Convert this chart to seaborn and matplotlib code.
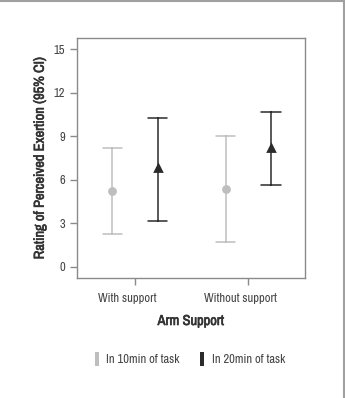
import pandas as pd
import matplotlib.pyplot as plt
import seaborn as sns
import numpy as np
from matplotlib import font_manager
import matplotlib.patheffects as pe
import matplotlib.transforms as mtransforms
from matplotlib.patches import Patch
from matplotlib.lines import Line2D

# values (mean and 95% CI bounds)
supports = ['With support', 'Without support']
times = ['In 10min of task', 'In 20min of task']
means_10 = [5.23, 5.37]
lower_10 = [2.25, 1.74]
upper_10 = [8.21, 9.02]
means_20 = [6.78, 8.17]
lower_20 = [3.19, 5.64]
upper_20 = [10.23, 10.65]

colors = ['#bebebe', '#2b2b2b']

rows = []
for t, m, lo, hi in [(times[0], means_10, lower_10, upper_10),
                     (times[1], means_20, lower_20, upper_20)]:
    for i, s in enumerate(supports):
        for v in (lo[i], m[i], hi[i]):
            rows.append({'support': s, 'time': t, 'rpe': v})
df = pd.DataFrame(rows)

sns.set_style('white')
# prefer a narrow face if one is installed
names = sorted({f.name for f in font_manager.fontManager.ttflist})
narrow = [n for n in names if 'Narrow' in n or 'Condensed' in n]
fam = narrow[:1] + ['Liberation Sans', 'DejaVu Sans']
plt.rcParams['font.family'] = fam
fs = 9 if narrow else 7.5
lfs = 10.4 if narrow else 8
# fake a bold weight with a thin stroke (narrow face has no bold)
bold = [pe.withStroke(linewidth=0.45, foreground='#333333')]

fig = plt.figure(figsize=(3.45, 3.98), dpi=100)
ax = fig.add_axes([77 / 345, 1 - 278 / 398, 228 / 345, 240 / 398])

# median of (lower, mean, upper) = mean; errorbar spans lower..upper
sns.pointplot(data=df, x='support', y='rpe', hue='time', hue_order=times,
              order=supports, estimator='median',
              errorbar=lambda x: (x.min(), x.max()),
              dodge=0.4, markers=['o', '^'], linestyles='none',
              palette=colors, capsize=0.17, markersize=4.3,
              err_kws={'linewidth': 1.1}, legend=False, ax=ax)

ax.set_xlim(-0.51, 1.5)
ax.set_ylim(-0.76, 15.76)
ax.set_yticks([0, 3, 6, 9, 12, 15])
for sp in ax.spines.values():
    sp.set_color('#8a8a8a')
    sp.set_linewidth(1.0)
ax.tick_params(axis='both', colors='#8a8a8a', labelcolor='#444444',
               labelsize=fs, length=5, width=1, left=True, bottom=True)
ax.tick_params(axis='x', pad=6)
# category labels sit a little left of their ticks in the original
shift = mtransforms.ScaledTranslation(-8 / 100, 0, fig.dpi_scale_trans)
for lab in ax.get_xticklabels():
    lab.set_transform(lab.get_transform() + shift)
ax.set_xlabel('Arm Support', fontsize=lfs, color='#333333', labelpad=7,
              path_effects=bold)
ax.set_ylabel('Rating of Perceived Exertion (95% CI)', fontsize=lfs,
              color='#333333', labelpad=5, path_effects=bold)

handles = [Patch(facecolor=colors[0], edgecolor='none'),
           Patch(facecolor=colors[1], edgecolor='none')]
fig.legend(handles, times, loc='center', bbox_to_anchor=(0.55, 1 - 359 / 398),
           ncol=2, frameon=False, fontsize=fs, handlelength=0.35,
           handleheight=1.4, handletextpad=0.6, columnspacing=1.6,
           labelcolor='#444444')

# thin page border (top and right)
fig.add_artist(Line2D([0, 1], [0.998, 0.998], transform=fig.transFigure,
                      color='#a0a0a0', linewidth=1.5))
fig.add_artist(Line2D([0.997, 0.997], [0, 1], transform=fig.transFigure,
                      color='#a0a0a0', linewidth=1.5))

fig.savefig('out.png', dpi=100)
